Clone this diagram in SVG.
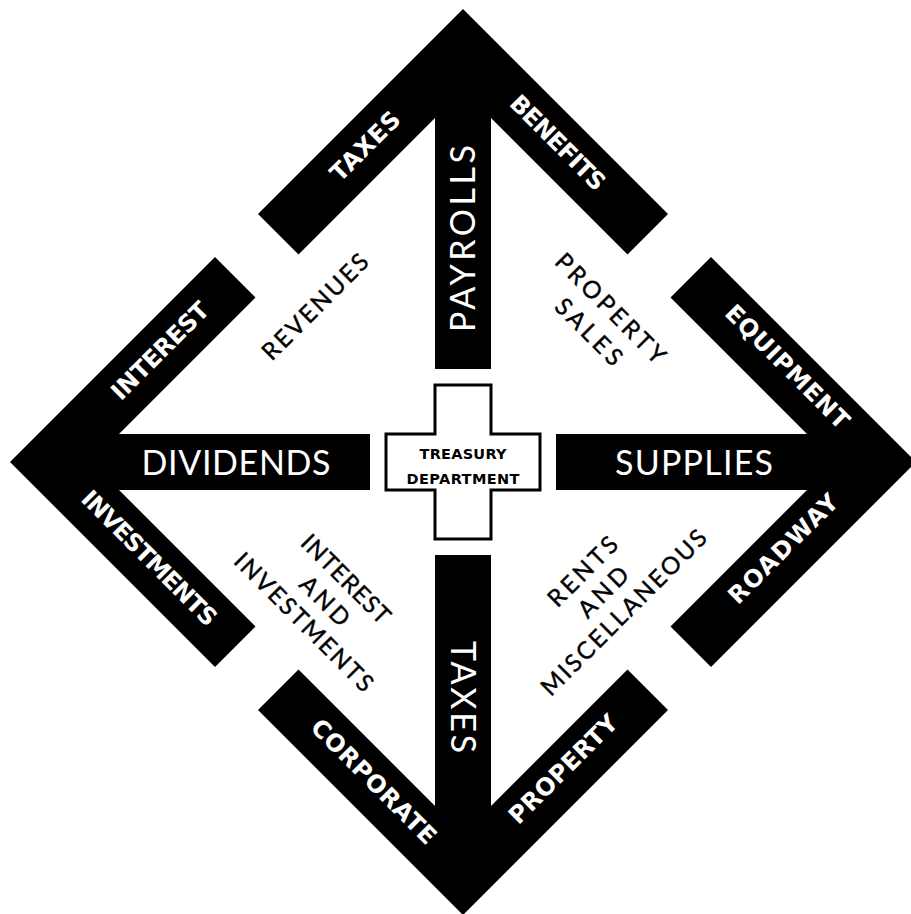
<svg xmlns="http://www.w3.org/2000/svg" xmlns:xlink="http://www.w3.org/1999/xlink" width="911" height="914" viewBox="0 0 911 914">
<style>
  .bg { fill: #ffffff; }
  .band { fill: #000000; }
  .big { font-family: Lato, "Liberation Sans", sans-serif; font-size: 34px; font-weight: 400; fill: #ffffff; text-anchor: middle; }
  .arm { font-family: "DejaVu Sans", "Liberation Sans", sans-serif; font-size: 24px; font-weight: 700; fill: #ffffff; text-anchor: middle; }
  .flow { font-family: Lato, "Liberation Sans", sans-serif; font-size: 24px; font-weight: 400; fill: #000000; text-anchor: middle; stroke: #000000; stroke-width: 0.4; }
  .cross { fill: #ffffff; stroke: #000000; stroke-width: 3; stroke-linejoin: miter; }
  .ctext { font-family: "DejaVu Sans", "Liberation Sans", sans-serif; font-size: 14.5px; font-weight: 700; fill: #000000; text-anchor: middle; }
</style>
<defs>
  <path id="chev" d="M0,-453 L205,-248 L164.5,-207.5 L28,-344 L28,-93 L-28,-93 L-28,-344 L-164.5,-207.5 L-205,-248 Z"/>
</defs>
<rect class="bg" x="0" y="0" width="911" height="914"/>

<g id="payrolls">
  <use xlink:href="#chev" href="#chev" class="band" transform="translate(463,462)"/>
  <text class="big" transform="translate(462.5,238.5) rotate(-90)" x="0" y="12.5" textLength="187">PAYROLLS</text>
  <text class="arm" transform="translate(365,146) rotate(-45)" x="0" y="8.5" textLength="88">TAXES</text>
  <text class="arm" transform="translate(558,142.5) rotate(45)" x="0" y="8.5" textLength="124">BENEFITS</text>
</g>

<g id="dividends">
  <use xlink:href="#chev" href="#chev" class="band" transform="translate(463,462) rotate(-90)"/>
  <text class="big" x="236" y="475" textLength="189">DIVIDENDS</text>
  <text class="arm" transform="translate(160,350.5) rotate(-45)" x="0" y="8.5" textLength="127">INTEREST</text>
  <text class="arm" transform="translate(149.5,558) rotate(45)" x="0" y="8.5" textLength="180">INVESTMENTS</text>
</g>

<g id="supplies">
  <use xlink:href="#chev" href="#chev" class="band" transform="translate(463,462) rotate(90)"/>
  <text class="big" x="694" y="475" textLength="158">SUPPLIES</text>
  <text class="arm" transform="translate(787.5,366.5) rotate(45)" x="0" y="8.5" textLength="164">EQUIPMENT</text>
  <text class="arm" transform="translate(783,548.5) rotate(-45)" x="0" y="8.5" textLength="144">ROADWAY</text>
</g>

<g id="taxes">
  <use xlink:href="#chev" href="#chev" class="band" transform="translate(463,462) rotate(180)"/>
  <text class="big" transform="translate(463.5,697) rotate(90)" x="0" y="12.5" textLength="112">TAXES</text>
  <text class="arm" transform="translate(374,781.5) rotate(45)" x="0" y="8.5" textLength="166">CORPORATE</text>
  <text class="arm" transform="translate(563,769) rotate(-45)" x="0" y="8.5" textLength="143">PROPERTY</text>
</g>

<g id="treasury">
  <path class="cross" transform="translate(463,462)" d="M-28,-77 H28 V-28 H77 V28 H28 V77 H-28 V28 H-77 V-28 H-28 Z"/>
  <text class="ctext" x="463" y="459" textLength="87">TREASURY</text>
  <text class="ctext" x="463" y="484" textLength="113">DEPARTMENT</text>
</g>

<g id="connectors">
  <g id="revenues">
    <text class="flow" transform="translate(315,306.7) rotate(-45)" x="0" y="8.5" textLength="139">REVENUES</text>
  </g>
  <g id="property-sales">
    <text class="flow" transform="translate(610.7,308.3) rotate(45)" x="0" y="8.5" textLength="145">PROPERTY</text>
    <text class="flow" transform="translate(589,331.7) rotate(45)" x="0" y="8.5" textLength="84">SALES</text>
  </g>
  <g id="interest-investments">
    <text class="flow" transform="translate(346,579) rotate(45)" x="0" y="8.5" textLength="115">INTEREST</text>
    <text class="flow" transform="translate(325,601) rotate(45)" x="0" y="8.5" textLength="60">AND</text>
    <text class="flow" transform="translate(304,622) rotate(45)" x="0" y="8.5" textLength="185">INVESTMENTS</text>
  </g>
  <g id="rents-misc">
    <text class="flow" transform="translate(582.7,571.4) rotate(-45)" x="0" y="8.5" textLength="88">RENTS</text>
    <text class="flow" transform="translate(603.2,591.9) rotate(-45)" x="0" y="8.5" textLength="61">AND</text>
    <text class="flow" transform="translate(623.7,612.4) rotate(-45)" x="0" y="8.5" textLength="223">MISCELLANEOUS</text>
  </g>
</g>
</svg>
